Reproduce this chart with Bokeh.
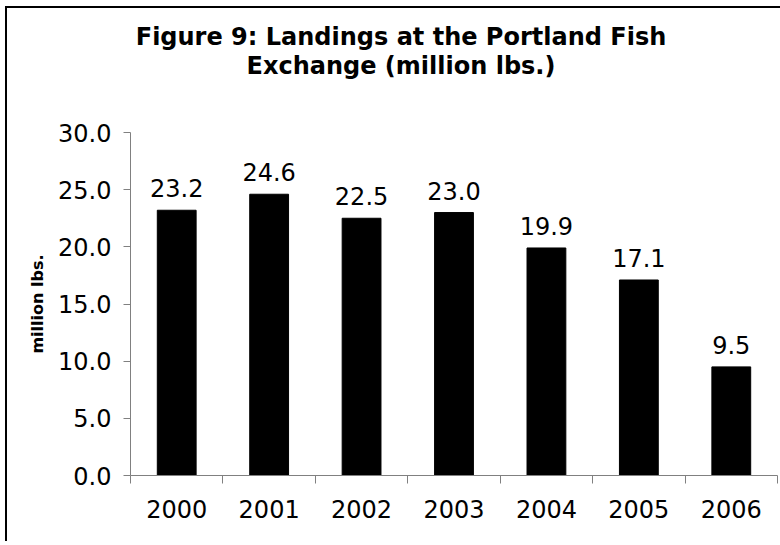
from bokeh.plotting import figure
from bokeh.models import Range1d, FixedTicker, NumeralTickFormatter, LabelSet, ColumnDataSource, Div
from bokeh.core.properties import value
from bokeh.layouts import column
from bokeh.embed import file_html
from bokeh.resources import INLINE

years = ["2000", "2001", "2002", "2003", "2004", "2005", "2006"]
landings = [23.2, 24.6, 22.5, 23.0, 19.9, 17.1, 9.5]
y_ticks = [0, 5, 10, 15, 20, 25, 30]
title_lines = ["Figure 9: Landings at the Portland Fish", "Exchange (million lbs.)"]

xpos = [i + 0.5 for i in range(len(years))]
src = ColumnDataSource(dict(x=xpos, y=landings, lab=[f"{v:.1f}" for v in landings]))

FONT = "DejaVu Sans"
p = figure(width=772, height=435, output_backend="svg", toolbar_location=None,
           x_range=Range1d(0, len(years)), y_range=Range1d(0, 30),
           min_border_left=123, min_border_right=2, min_border_top=26, min_border_bottom=66)
p.outline_line_color = None
p.grid.visible = False
p.background_fill_color = "white"
p.border_fill_color = "white"

p.vbar(x="x", top="y", width=0.42, source=src, fill_color="black", line_color="black")
p.add_layout(LabelSet(x="x", y="y", text="lab", source=src, text_align="center",
                      text_baseline="alphabetic", y_offset=13, text_font=value(FONT),
                      text_font_size=value("24px"), text_color=value("black")))

xa = p.xaxis[0]
xa.ticker = FixedTicker(ticks=xpos, minor_ticks=list(range(len(years) + 1)))
xa.major_label_overrides = {x: y for x, y in zip(xpos, years)}
xa.major_tick_line_color = None
xa.major_tick_out = 0
xa.major_tick_in = 0
xa.minor_tick_line_color = "#808080"
xa.minor_tick_out = 8
xa.minor_tick_in = 0
xa.axis_line_color = "#808080"
xa.major_label_text_font = FONT
xa.major_label_text_font_size = "24px"
xa.major_label_text_color = "black"
xa.major_label_standoff = 16

ya = p.yaxis[0]
ya.ticker = FixedTicker(ticks=y_ticks)
ya.formatter = NumeralTickFormatter(format="0.0")
ya.major_tick_line_color = "#808080"
ya.major_tick_out = 7
ya.major_tick_in = 0
ya.minor_tick_line_color = None
ya.axis_line_color = "#808080"
ya.major_label_text_font = FONT
ya.major_label_text_font_size = "24px"
ya.major_label_text_color = "black"
ya.major_label_standoff = 12
ya.axis_label = "million lbs."
ya.axis_label_text_font = FONT
ya.axis_label_text_font_style = "bold"
ya.axis_label_text_font_size = "16px"
ya.axis_label_text_color = "black"
ya.axis_label_standoff = 8

title_html = ("<div style=\"width:772px; box-sizing:border-box; padding-left:6px; padding-top:10px; "
              "text-align:center; font-family:'DejaVu Sans'; font-weight:bold; font-size:24px; "
              "line-height:29px; color:black;\">" + "<br>".join(title_lines) + "</div>")
title_div = Div(text=title_html, width=772, height=88)

layout = column(title_div, p, spacing=0,
                styles={"margin-left": "5px", "margin-top": "6px", "background": "white",
                        "border-top": "2px solid black", "border-left": "2px solid black"})

open("out.html", "w").write(file_html(layout, INLINE))
